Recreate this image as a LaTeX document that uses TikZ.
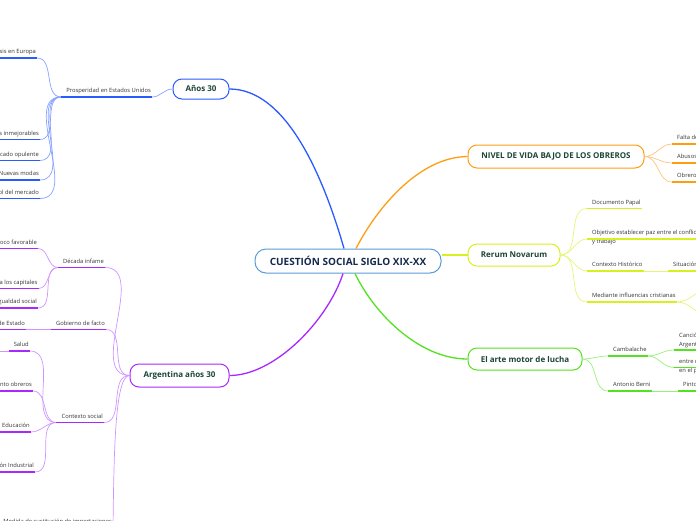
\documentclass[tikz,border=0pt]{standalone}
\usepackage{fontspec}
\setmainfont{Open Sans}
\usetikzlibrary{calc}

\definecolor{hubc}{HTML}{5B9BD5}
\definecolor{hubt}{HTML}{15294D}
\definecolor{topt}{HTML}{1B4536}
\definecolor{leaft}{HTML}{333333}
\definecolor{blu}{HTML}{2A5BFF}
\definecolor{blul}{HTML}{86A2FF}
\definecolor{pur}{HTML}{A829FF}
\definecolor{purl}{HTML}{CF94FF}
\definecolor{ora}{HTML}{FF9D12}
\definecolor{oral}{HTML}{FFC27A}
\definecolor{yel}{HTML}{D8F020}
\definecolor{yell}{HTML}{E6F57A}
\definecolor{grn}{HTML}{52E21F}
\definecolor{grnl}{HTML}{98F078}

\begin{document}
\begin{tikzpicture}[x=1pt, y=-1pt,
    hub/.style={draw=hubc, line width=1pt, fill=white, rounded corners=11pt,
        minimum width=186pt, minimum height=24pt, inner sep=0pt,
        font=\fontsize{10}{12}\selectfont\bfseries, text=hubt},
    topic/.style={draw=#1, line width=1pt, fill=white, rounded corners=9pt,
        inner sep=0pt, font=\fontsize{8}{10}\selectfont\bfseries, text=topt},
    leaf/.style={font=\fontsize{5.8}{9}\selectfont, text=leaft, inner xsep=1pt, inner ysep=3pt},
    one/.style={text height=4.2pt, text depth=1.2pt},
    lleaf/.style={leaf, one, anchor=south east},
    rleaf/.style={leaf, one, anchor=south west},
    rtwo/.style={leaf, align=left, anchor=north west, inner ysep=1pt},
    trunk/.style={draw=#1, line width=1.3pt},
    link/.style={draw=#1, line width=0.7pt},
    uline/.style={draw=#1, line width=1.5pt}
]
\useasboundingbox (0,0) rectangle (696,520);
\clip (0,0) rectangle (696,520);

% centre and main topics
\node[hub] (cq) at (348,261) {CUESTIÓN SOCIAL SIGLO XIX-XX};
\node[topic=blu, minimum width=56pt, minimum height=20pt] (a30) at (201,89) {Años 30};
\node[topic=pur, minimum width=99pt, minimum height=23pt] (arg) at (179.5,375.5) {Argentina años 30};
\node[topic=ora, minimum width=176pt, minimum height=23pt] (niv) at (556,156.5) {NIVEL DE VIDA BAJO DE LOS OBREROS};
\node[topic=yel, minimum width=92pt, minimum height=22pt] (rer) at (514,255) {Rerum Novarum};
\node[topic=grn, minimum width=114pt, minimum height=22pt] (art) at (525,359) {El arte motor de lucha};

% Años 30
\node[lleaf] (pros) at (152,97) {Prosperidad en Estados Unidos};
\node[lleaf] (eu1) at (37,58) {Crisis en Europa};
\node[lleaf] (eu2) at (40,139.5) {Condiciones inmejorables};
\node[lleaf] (eu3) at (40,160.5) {Mercado opulente};
\node[lleaf] (eu4) at (40,180) {Nuevas modas};
\node[lleaf] (eu5) at (40,198.5) {Control del mercado};

% Argentina años 30
\node[lleaf] (dec) at (105,267.5) {Década infame};
\node[lleaf] (dec1) at (38,248.5) {Contexto económico poco favorable};
\node[lleaf] (dec2) at (38.5,288.5) {Sumisión a los capitales};
\node[lleaf] (dec3) at (38,308) {Desigualdad social};
\node[lleaf] (gob) at (106,329.5) {Gobierno de facto};
\node[lleaf] (gob1) at (26,329.5) {Golpe de Estado};
\node[lleaf] (soc) at (104,422.5) {Contexto social};
\node[lleaf] (soc1) at (30,351) {Salud};
\node[lleaf] (soc2) at (33,391) {Movimiento obreros};
\node[lleaf] (soc3) at (31,432) {Educación};
\node[lleaf] (soc4) at (35,472) {Revolución Industrial};
\node[lleaf] (imp) at (113,527.5) {Medida de sustitución de importaciones};
\coordinate (salw) at (-2,351);

% nivel de vida
\node[rleaf] (niv1) at (676,144) {Falta de higiene};
\node[rleaf] (niv2) at (676,163) {Abusos patronales};
\node[rleaf] (niv3) at (676,182) {Obreros explotados};

% Rerum Novarum
\node[rleaf] (rer1) at (591,208.5) {Documento Papal};
\node[rtwo] (rer2) at (591,229) {Objetivo establecer paz entre el conflicto capital\\y trabajo};
\node[rleaf] (rer3) at (591,271) {Contexto Histórico};
\node[rleaf] (rer3a) at (672,271) {Situación de los obreros};
\node[rleaf] (rer4) at (591,302) {Mediante influencias cristianas};
\coordinate (rer2u) at ([yshift=-10pt]rer2.north west);
\coordinate (med1) at (712,288);
\coordinate (med2) at (712,317);

% el arte
\node[rleaf] (cam) at (612,356) {Cambalache};
\node[rtwo] (cam1) at (678,332) {Canción\\Argentina};
\node[rtwo] (cam2) at (678,357.5) {entre realidad\\en el período};
\node[rleaf] (ber) at (612,391) {Antonio Berni};
\node[rleaf] (ber1) at (682,391) {Pintor};
\coordinate (cam1u) at ([yshift=-18pt]cam1.north west);
\coordinate (cam2u) at ([yshift=-10pt]cam2.north west);

% trunks
\draw[trunk=blu] ([xshift=-4pt]cq.north) .. controls (322,172) and (285,89) .. (a30.east);
\draw[trunk=ora] ([xshift=8pt]cq.north) .. controls (378,206) and (420,157) .. (niv.west);
\draw[trunk=pur] ([xshift=-5pt]cq.south) .. controls (328,320) and (275,375.5) .. (arg.east);
\draw[trunk=grn] ([xshift=7pt]cq.south) .. controls (375,315) and (420,359) .. (art.west);
\draw[trunk=yel] ([yshift=6pt]cq.east) to[out=0,in=180] (rer.west);

% links
\draw[link=blul] (a30.west) to[out=180,in=0] (pros.south east);
\foreach \k in {eu1,eu2,eu3,eu4,eu5}
    \draw[link=blul] ([xshift=-4pt]pros.south west) to[out=180,in=0] (\k.south east);
\foreach \k in {dec,gob,soc}
    \draw[link=purl] (arg.west) to[out=180,in=0] (\k.south east);
\draw[link=purl] (arg.west) .. controls (115,376) and (114,450) .. (imp.south east);
\foreach \k in {dec1,dec2,dec3}
    \draw[link=purl] ([xshift=-4pt]dec.south west) to[out=180,in=0] (\k.south east);
\draw[link=purl] ([xshift=-4pt]gob.south west) -- (gob1.south east);
\foreach \k in {soc1,soc2,soc3,soc4}
    \draw[link=purl] ([xshift=-4pt]soc.south west) to[out=180,in=0] (\k.south east);
\draw[link=purl] ([xshift=-4pt]soc1.south west) -- (salw);
\foreach \k in {niv1,niv2,niv3}
    \draw[link=oral] (niv.east) to[out=0,in=180] ([xshift=-4pt]\k.south west);
\foreach \k in {rer1,rer3,rer4}
    \draw[link=yell] (rer.east) to[out=0,in=180] ([xshift=-4pt]\k.south west);
\draw[link=yell] (rer.east) to[out=0,in=180] ([xshift=-4pt]rer2u);
\draw[link=yell] (rer3.south east) -- ([xshift=-4pt]rer3a.south west);
\draw[link=yell] (rer4.south east) to[out=0,in=180] (med1);
\draw[link=yell] (rer4.south east) to[out=0,in=180] (med2);
\foreach \k in {cam,ber}
    \draw[link=grnl] (art.east) to[out=0,in=180] ([xshift=-4pt]\k.south west);
\draw[link=grnl] (cam.south east) to[out=0,in=180] ([xshift=-4pt]cam1u);
\draw[link=grnl] (cam.south east) to[out=0,in=180] ([xshift=-4pt]cam2u);
\draw[link=grnl] (ber.south east) -- ([xshift=-4pt]ber1.south west);

% underlines
\foreach \n/\c in {pros/blu,eu1/blu,eu2/blu,eu3/blu,eu4/blu,eu5/blu,
    dec/pur,dec1/pur,dec2/pur,dec3/pur,gob/pur,gob1/pur,soc/pur,soc1/pur,soc2/pur,soc3/pur,soc4/pur,imp/pur,
    niv1/ora,niv2/ora,niv3/ora,rer1/yel,rer3/yel,rer3a/yel,rer4/yel,cam/grn,ber/grn,ber1/grn}
    \draw[uline=\c] ([xshift=-4pt]\n.south west) -- (\n.south east);
\draw[uline=yel] ([xshift=-4pt]rer2u) -- ([yshift=-10pt]rer2.north east);
\draw[uline=grn] ([xshift=-4pt]cam1u) -- ([yshift=-18pt]cam1.north east);
\draw[uline=grn] ([xshift=-4pt]cam2u) -- ([yshift=-10pt]cam2.north east);
\end{tikzpicture}
\end{document}
